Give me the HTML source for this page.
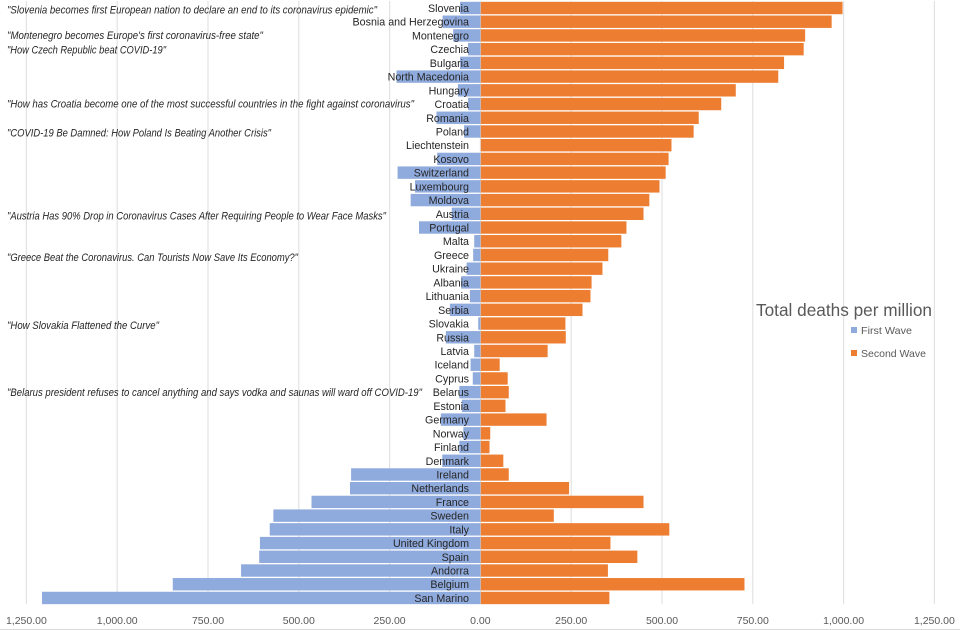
<!DOCTYPE html>
<html lang="en">
<head>
<meta charset="utf-8">
<title>Total deaths per million</title>
<style>
html,body{margin:0;padding:0;background:#fff;}
svg{display:block;font-family:"Liberation Sans",sans-serif;}
.q{font-size:11px;font-style:italic;fill:#262626;}
</style>
</head>
<body>
<svg id="chart" width="960" height="630" viewBox="0 0 960 630" xmlns="http://www.w3.org/2000/svg">
  <g id="grid"></g>
  <g id="bars"></g>
  <g id="labels"></g>
  <g id="ticks"></g>
  <g>
    <text class="q" x="7" y="13.5" textLength="370" lengthAdjust="spacingAndGlyphs">"Slovenia becomes first European nation to declare an end to its coronavirus epidemic"</text>
    <text class="q" x="7" y="39" textLength="256" lengthAdjust="spacingAndGlyphs">"Montenegro becomes Europe's first coronavirus-free state"</text>
    <text class="q" x="7" y="53.5" textLength="159" lengthAdjust="spacingAndGlyphs">"How Czech Republic beat COVID-19"</text>
    <text class="q" x="7" y="107.5" textLength="407" lengthAdjust="spacingAndGlyphs">"How has Croatia become one of the most successful countries in the fight against coronavirus"</text>
    <text class="q" x="7" y="136.5" textLength="264" lengthAdjust="spacingAndGlyphs">"COVID-19 Be Damned: How Poland Is Beating Another Crisis"</text>
    <text class="q" x="7" y="219.5" textLength="379" lengthAdjust="spacingAndGlyphs">"Austria Has 90% Drop in Coronavirus Cases After Requiring People to Wear Face Masks"</text>
    <text class="q" x="7" y="261" textLength="291" lengthAdjust="spacingAndGlyphs">"Greece Beat the Coronavirus. Can Tourists Now Save Its Economy?"</text>
    <text class="q" x="7" y="329" textLength="152" lengthAdjust="spacingAndGlyphs">"How Slovakia Flattened the Curve"</text>
    <text class="q" x="7" y="396" textLength="415" lengthAdjust="spacingAndGlyphs">"Belarus president refuses to cancel anything and says vodka and saunas will ward off COVID-19"</text>
  </g>
  <text x="756" y="316" font-size="17.5" fill="#595959" textLength="176" lengthAdjust="spacingAndGlyphs">Total deaths per million</text>
  <g>
    <g>
      <rect x="851" y="327" width="6" height="6" fill="#8faadc"></rect>
      <text x="861" y="334" font-size="10.5" fill="#595959" textLength="51" lengthAdjust="spacingAndGlyphs">First Wave</text>
    </g>
    <g>
      <rect x="851" y="350" width="6" height="6" fill="#ed7d31"></rect>
      <text x="861" y="357" font-size="10.5" fill="#595959" textLength="65" lengthAdjust="spacingAndGlyphs">Second Wave</text>
    </g>
  </g>
  <rect x="0" y="629" width="960" height="1" fill="#d9d9d9"></rect>
</svg>
<script>
const categories = ["Slovenia","Bosnia and Herzegovina","Montenegro","Czechia","Bulgaria","North Macedonia","Hungary","Croatia","Romania","Poland","Liechtenstein","Kosovo","Switzerland","Luxembourg","Moldova","Austria","Portugal","Malta","Greece","Ukraine","Albania","Lithuania","Serbia","Slovakia","Russia","Latvia","Iceland","Cyprus","Belarus","Estonia","Germany","Norway","Finland","Denmark","Ireland","Netherlands","France","Sweden","Italy","United Kingdom","Spain","Andorra","Belgium","San Marino"];
const firstWave = [56,104,75,34,56,231,62,34,121,45,0,119,228,180,192,79,169,17,20,38,53,29,84,6,95,17,27,21,58,51,109,47,58,105,356,359,465,570,580,607,609,659,847,1207];
const secondWave = [996,966,893,889,835,819,702,662,600,586,525,517,509,492,464,448,401,387,351,335,305,302,280,233,234,184,52,74,77,68,181,26,24,62,77,243,448,201,519,357,431,350,726,354];
const tickValues = [-1250,-1000,-750,-500,-250,0,250,500,750,1000,1250];
const tickLabels = ["1,250.00","1,000.00","750.00","500.00","250.00","0.00","250.00","500.00","750.00","1,000.00","1,250.00"];

const NS = 'http://www.w3.org/2000/svg';
const zeroX = 480.4, pxPerUnit = 0.3632;
const firstRowY = 8, rowPitch = 13.72, barH = 12.4;
const xScale = v => zeroX + v * pxPerUnit;
const yScale = i => firstRowY + i * rowPitch;
function make(tag, attrs, parent) {
  const el = document.createElementNS(NS, tag);
  for (const k in attrs) el.setAttribute(k, attrs[k]);
  parent.appendChild(el);
  return el;
}
const slug = s => s.toLowerCase().replace(/[^a-z0-9]+/g, '-');

const grid = document.getElementById('grid');
const ticks = document.getElementById('ticks');
tickValues.forEach((v, i) => {
  const line = make('line', {x1: xScale(v), x2: xScale(v), y1: 1, y2: 604, stroke: '#e2e2e2', 'stroke-width': 1.2}, grid);
  
  
  const t = make('text', {x: xScale(v), y: 624, 'text-anchor': 'middle', 'font-size': 10.5, fill: '#595959'}, ticks);
  t.textContent = tickLabels[i];
  
  
});

const bars = document.getElementById('bars');
const labels = document.getElementById('labels');
categories.forEach((name, i) => {
  const cy = yScale(i);
  const first = make('rect', {x: xScale(-firstWave[i]), y: cy - barH / 2, width: firstWave[i] * pxPerUnit, height: barH, fill: '#8faadc'}, bars);
  
  
  const second = make('rect', {x: xScale(0) + 0.4, y: cy - barH / 2, width: secondWave[i] * pxPerUnit, height: barH, fill: '#ed7d31'}, bars);
  
  
  const t = make('text', {x: 469, y: cy + 4, 'text-anchor': 'end', 'font-size': 10.7, fill: '#262626'}, labels);
  t.textContent = name;
  
  
});
</script>
</body>
</html>
